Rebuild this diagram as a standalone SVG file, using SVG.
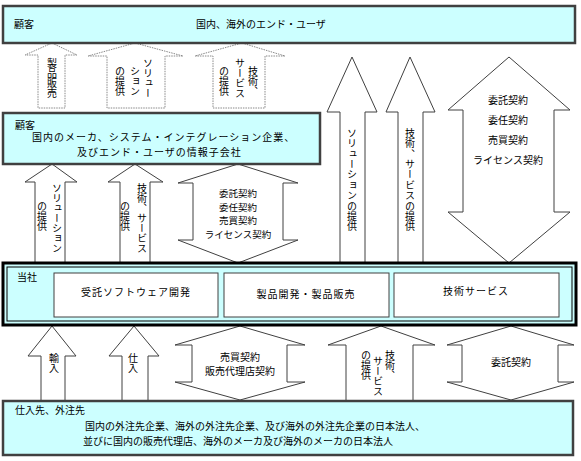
<svg xmlns="http://www.w3.org/2000/svg" width="581" height="461" viewBox="0 0 581 461">
<style>
text{font-family:"Noto Sans CJK JP","Noto Sans CJK SC",sans-serif;font-size:10px;fill:#000}
.v{writing-mode:vertical-rl;text-orientation:upright}
.m{text-anchor:middle}
.s{font-size:9.5px}
.box{fill:#ccffff;stroke:#404040;stroke-width:2.5}
.inner{fill:#fff;stroke:#404040;stroke-width:1}
.dot{fill:#fff;stroke:#888;stroke-width:1;stroke-dasharray:1.5 1}
.arr{fill:#fff;stroke:#404040;stroke-width:1}
</style>
<g id="connectors">
<polygon class="dot" points="52,43 77,55 65,55 65,108 38,108 38,55 25,55"/>
<polygon class="dot" points="135,43 183,56 165,56 165,108 107,108 107,56 88,56"/>
<polygon class="dot" points="242,43 285,56 265,56 265,108 213,108 213,56 195,56"/>
<polygon class="arr" points="52,164 77,182 65,182 65,263 35,263 35,182 25,182"/>
<polygon class="arr" points="135,164 163,182 150,182 150,263 120,263 120,182 108,182"/>
<polygon class="arr" points="238,164 298,183 283,183 283,240 298,240 238,263 178,240 193,240 193,183 178,183"/>
<polygon class="arr" points="352,57 377,112 365,112 365,263 340,263 340,112 327,112"/>
<polygon class="arr" points="410,57 435,112 423,112 423,263 398,263 398,112 386,112"/>
<polygon class="arr" points="509,57 570,110 554,110 554,212 570,212 509,263 448,212 463,212 463,110 448,110"/>
<polygon class="arr" points="52,326 76,356 65,356 65,401 41,401 41,356 28,356"/>
<polygon class="arr" points="134,326 159,356 148,356 148,401 122,401 122,356 109,356"/>
<polygon class="arr" points="240,326 305,345 287,345 287,382 305,382 240,400 175,382 192,382 192,345 175,345"/>
<polygon class="arr" points="381,326 435,345 413,345 413,401 346,401 346,345 328,345"/>
<polygon class="arr" points="511,326 574,345 558,345 558,382 574,382 511,400 447,382 462,382 462,345 447,345"/>
</g>
<g id="labels">
<text class="v" x="52" y="58">製品販売</text>
<text class="v" x="148" y="58">ソリュー</text>
<text class="v" x="135" y="66">ション</text>
<text class="v" x="120" y="66">の提供</text>
<text class="v" x="253" y="66">技術、</text>
<text class="v" x="240" y="58">サービス</text>
<text class="v" x="224" y="66">の提供</text>
<text class="v" x="57" y="183">ソリューション</text>
<text class="v" x="42" y="201">の提供</text>
<text class="v" x="142" y="183">技術、サービス</text>
<text class="v" x="125" y="201">の提供</text>
<text class="m s" x="238" y="197">委託契約</text>
<text class="m s" x="238" y="210.5">委任契約</text>
<text class="m s" x="238" y="224">売買契約</text>
<text class="m s" x="238" y="237.5">ライセンス契約</text>
<text class="v" x="352" y="128" style="letter-spacing:0.4px">ソリューションの提供</text>
<text class="v" x="410" y="128" style="letter-spacing:0.4px">技術、サービスの提供</text>
<text class="m" x="508" y="104">委託契約</text>
<text class="m" x="508" y="124">委任契約</text>
<text class="m" x="508" y="144">売買契約</text>
<text class="m" x="508" y="164">ライセンス契約</text>
<text class="v" x="54" y="353">輸入</text>
<text class="v" x="133" y="353">仕入</text>
<text class="m" x="240" y="361">売買契約</text>
<text class="m" x="240" y="375">販売代理店契約</text>
<text class="v" x="390" y="350">技術、</text>
<text class="v" x="378" y="356">サービス</text>
<text class="v" x="366" y="350">の提供</text>
<text class="m" x="511" y="366">委託契約</text>
</g>
<g id="customers-top">
<rect class="box" x="3" y="6" width="572" height="37"/>
<text x="14" y="28">顧客</text>
<text x="196" y="28">国内、海外のエンド・ユーザ</text>
</g>
<g id="customers-mid">
<rect class="box" x="3" y="113" width="317" height="51"/>
<text x="15" y="129">顧客</text>
<text x="32" y="141" style="letter-spacing:1px">国内のメーカ、システム・インテグレーション企業、</text>
<text x="77" y="156" style="letter-spacing:1px">及びエンド・ユーザの情報子会社</text>
</g>
<g id="company">
<rect x="3" y="263" width="573" height="62" fill="#ccffff" stroke="#000" stroke-width="3"/>
<rect x="7" y="267" width="565" height="54" fill="none" stroke="#000" stroke-width="1"/>
<text x="17" y="281">当社</text>
</g>
<g id="contract-dev">
<rect class="inner" x="54" y="273" width="164" height="44"/>
<text class="m" x="136" y="296" style="letter-spacing:1px">受託ソフトウェア開発</text>
</g>
<g id="product-dev">
<rect class="inner" x="224" y="273" width="165" height="44"/>
<text class="m" x="306" y="298" style="letter-spacing:1px">製品開発・製品販売</text>
</g>
<g id="tech-service">
<rect class="inner" x="394" y="273" width="165" height="44"/>
<text class="m" x="476" y="295" style="letter-spacing:1px">技術サービス</text>
</g>
<g id="suppliers">
<rect class="box" x="3" y="401" width="570" height="54"/>
<text x="15" y="414">仕入先、外注先</text>
<text x="85" y="430">国内の外注先企業、海外の外注先企業、及び海外の外注先企業の日本法人、</text>
<text x="83" y="445">並びに国内の販売代理店、海外のメーカ及び海外のメーカの日本法人</text>
</g>
</svg>
